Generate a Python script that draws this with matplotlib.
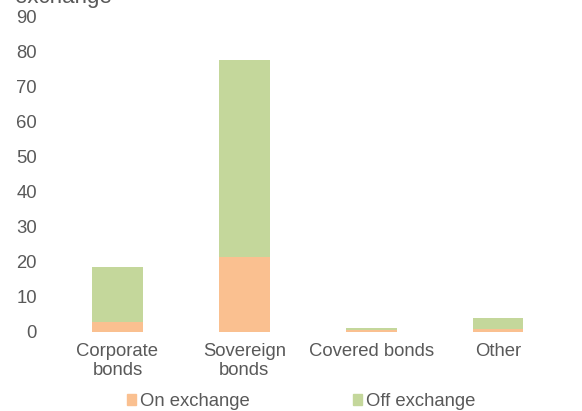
import matplotlib
matplotlib.use("Agg")
import matplotlib.pyplot as plt
from matplotlib.patches import Patch

plt.rcParams['font.family'] = ['Liberation Sans', 'DejaVu Sans']

categories = ["Corporate\nbonds", "Sovereign\nbonds", "Covered bonds", "Other"]
on_exchange = [2.8, 21.3, 0.5, 0.8]
off_exchange = [15.5, 56.2, 0.6, 3.0]
yticks = [0, 10, 20, 30, 40, 50, 60, 70, 80, 90]

c_on = "#FAC090"
c_off = "#C4D79B"
grey = "#595959"
fs = 13.3

W, H = 582, 411
fig = plt.figure(figsize=(W/100, H/100), dpi=100)
left, right, top, bottom = 54, 561.5, 16.5, 331.5
ax = fig.add_axes([left/W, 1-bottom/H, (right-left)/W, (bottom-top)/H])
x = list(range(len(categories)))
ax.bar(x, on_exchange, width=0.4, color=c_on, label="On exchange")
ax.bar(x, off_exchange, width=0.4, bottom=on_exchange, color=c_off, label="Off exchange")
ax.set_xlim(-0.5, len(categories)-0.5)
ax.set_ylim(0, 90)
ax.set_yticks(yticks)
ax.set_xticks(x)
ax.set_xticklabels(categories, linespacing=1.11)
for s in ax.spines.values():
    s.set_visible(False)
ax.tick_params(axis='both', length=0, colors=grey, labelsize=fs)
ax.tick_params(axis='y', pad=12.2)
ax.tick_params(axis='x', pad=8.4)

fig.text(15/W, 1-3/H, "exchange", fontsize=16, color=grey, ha='left', va='baseline')

handles = [Patch(color=c_on, label="On exchange"), Patch(color=c_off, label="Off exchange")]
fig.legend(handles=handles, loc='center left', bbox_to_anchor=(127/W, 1-401.5/H), ncol=2,
           frameon=False, fontsize=fs, handlelength=0.49, handleheight=0.49,
           handletextpad=0.22, columnspacing=5.57, labelcolor=grey,
           borderpad=0, borderaxespad=0)

fig.savefig("out.png", dpi=100)
